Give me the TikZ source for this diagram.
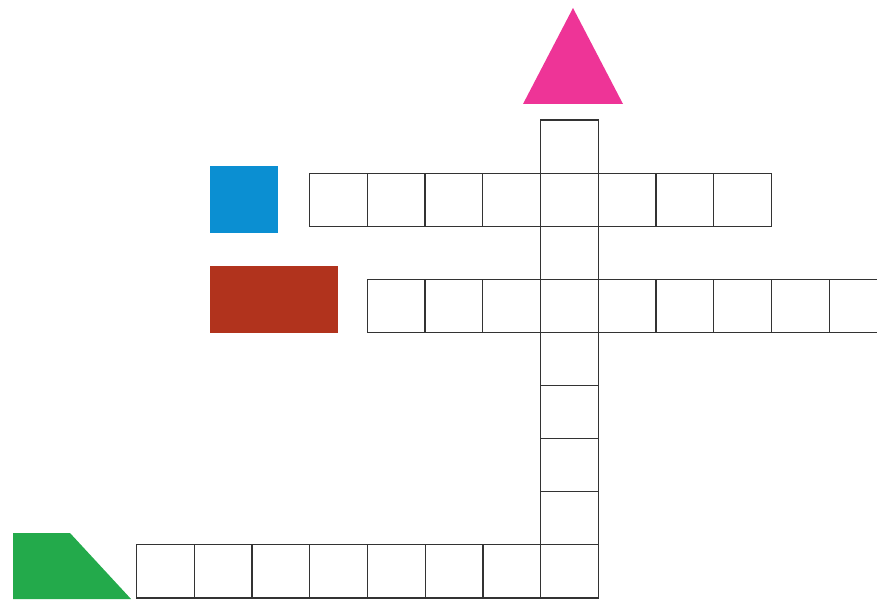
\documentclass[tikz,border=0pt]{standalone}
\definecolor{tripink}{HTML}{EE3497}
\definecolor{sqblue}{HTML}{0B8FD2}
\definecolor{rectred}{HTML}{B1331D}
\definecolor{trapgreen}{HTML}{23AA4B}
\definecolor{gridline}{HTML}{333333}
\begin{document}
\begin{tikzpicture}[x=1pt,y=-1pt,
  cell/.style={draw=gridline, line width=1.2pt, minimum width=57.75pt, minimum height=53.1pt, inner sep=0pt, outer sep=0pt, anchor=north west},
  block/.style={inner sep=0pt, outer sep=0pt, anchor=north west}]
\useasboundingbox (0,0) rectangle (877,599);
\clip (0,0) rectangle (877,599);
% vertical column
\foreach \i in {0,...,8} \node[cell] (v\i) at (540.5,{120+53.1*\i}) {};
% row 1
\foreach \i in {0,...,7} \node[cell] (a\i) at ({309.5+57.75*\i},173.1) {};
% row 2
\foreach \i in {0,...,8} \node[cell] (b\i) at ({367.25+57.75*\i},279.3) {};
% row 3
\foreach \i in {0,...,7} \node[cell] (c\i) at ({136.5+57.75*\i},544.8) {};
% coloured markers
\node[block, fill=sqblue, minimum width=68pt, minimum height=67pt] (blue) at (210,166) {};
\node[block, fill=rectred, minimum width=128pt, minimum height=67pt] (red) at (210,266) {};
\fill[tripink] (573,8) -- (623,104) -- (523,104) -- cycle;
\fill[trapgreen] (13,533) -- (70,533) -- (131,599) -- (13,599) -- cycle;
\end{tikzpicture}
\end{document}
